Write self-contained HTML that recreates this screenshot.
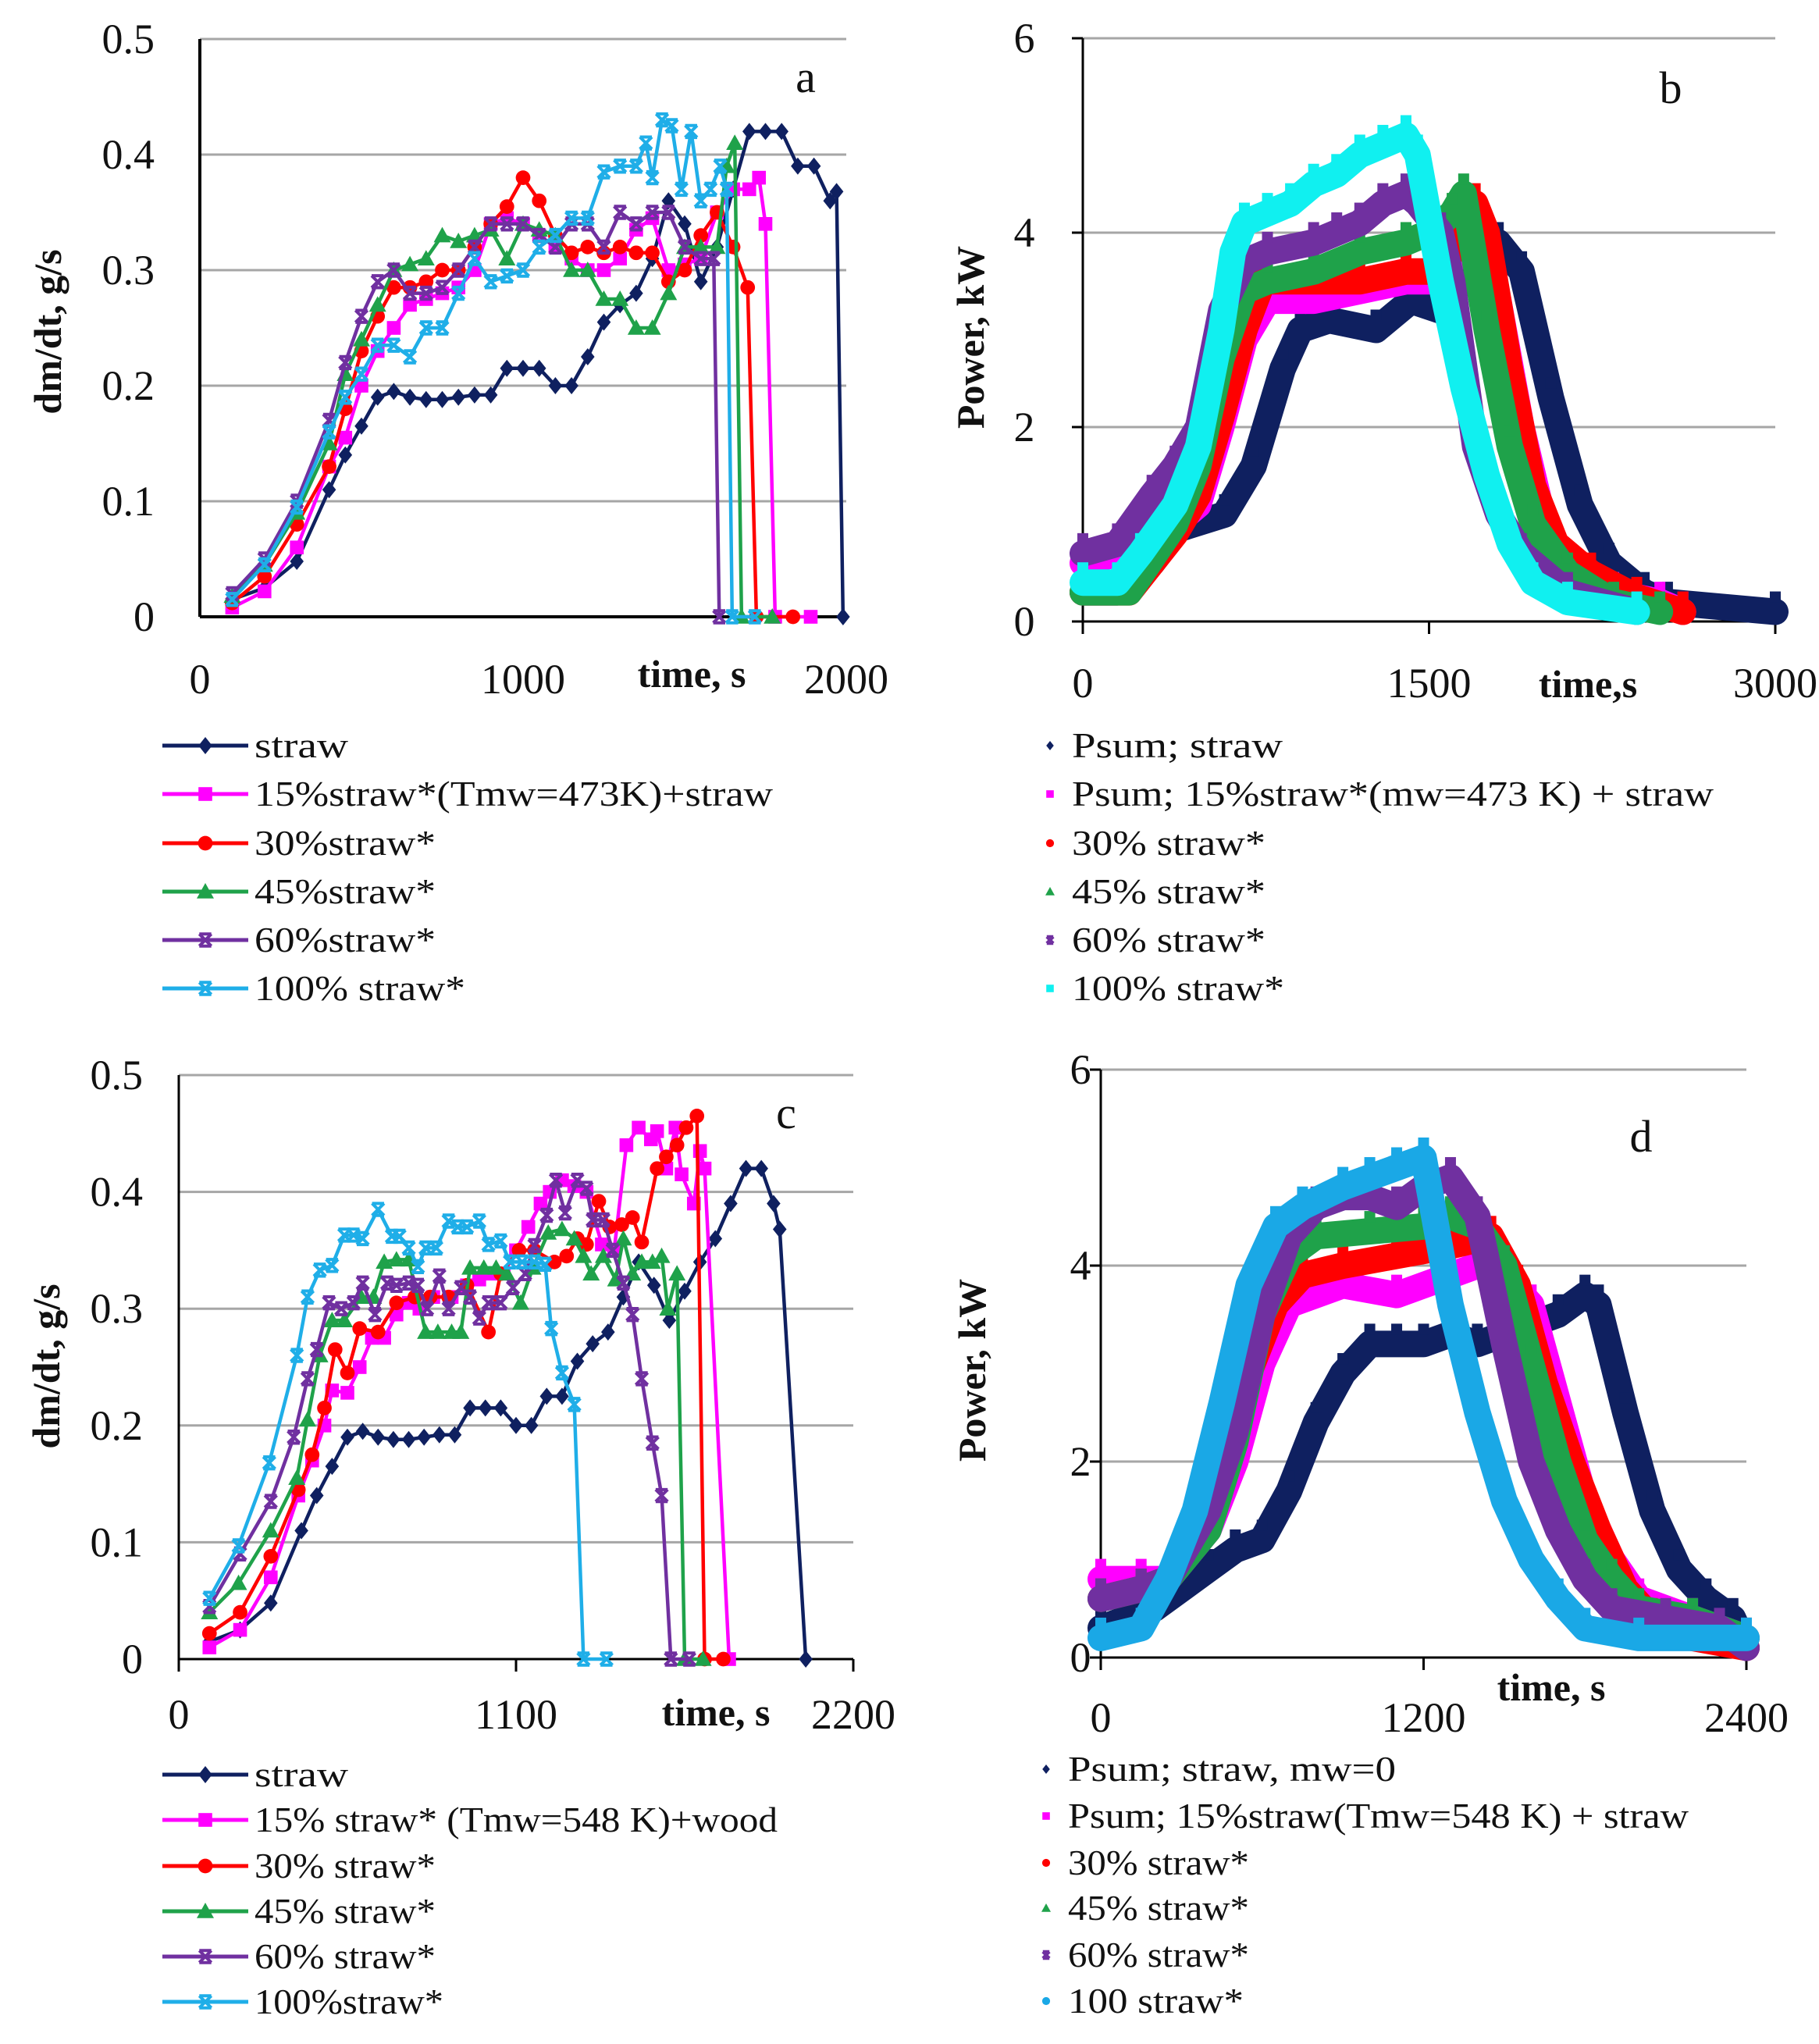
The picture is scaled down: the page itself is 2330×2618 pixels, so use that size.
<!DOCTYPE html>
<html><head><meta charset="utf-8">
<style>
html,body{margin:0;padding:0;background:#fff;}
svg{display:block;}
text{font-family:"Liberation Serif",serif;fill:#111;}
</style></head>
<body>
<svg id="fig" width="2330" height="2618" viewBox="0 0 2330 2618" xmlns="http://www.w3.org/2000/svg"></svg>
<script>
// ---------- Chart a data (dm/dt, g/s vs time, s) ----------
const aStrawT=[100,200,300,400,450,500,550,600,650,700,750,800,850,900,950,1000,1050,1100,1150,1200,1250,1300,1350,1400,1450,1500,1550,1600,1650,1700,1750,1800,1850,1900,1950,1970,1990];
const aStrawV=[.015,.025,.048,.11,.14,.165,.19,.195,.19,.188,.188,.19,.192,.192,.215,.215,.215,.2,.2,.225,.255,.27,.28,.31,.36,.34,.29,.32,.37,.42,.42,.42,.39,.39,.36,.368,0];
const aPinkT=[100,200,300,400,450,500,550,600,650,700,750,800,850,900,950,1000,1050,1100,1150,1200,1250,1300,1350,1400,1450,1500,1550,1600,1650,1700,1730,1750,1780,1890];
const aPinkV=[.008,.022,.06,.13,.155,.2,.23,.25,.27,.275,.28,.285,.3,.34,.345,.34,.33,.32,.31,.3,.3,.31,.335,.345,.3,.305,.31,.35,.37,.37,.38,.34,0,0];
const aRedT=[100,200,300,400,450,500,550,600,650,700,750,800,850,900,950,1000,1050,1100,1150,1200,1250,1300,1350,1400,1450,1500,1550,1600,1650,1695,1722,1835];
const aRedV=[.012,.035,.08,.13,.18,.23,.26,.285,.285,.29,.3,.3,.32,.34,.355,.38,.36,.33,.315,.32,.315,.32,.315,.315,.29,.3,.33,.35,.32,.285,0,0];
const aGreenT=[100,200,300,400,450,500,550,600,650,700,750,800,850,900,950,1000,1050,1100,1150,1200,1250,1300,1350,1400,1450,1500,1550,1600,1630,1655,1676,1771];
const aGreenV=[.018,.045,.09,.15,.21,.24,.27,.3,.305,.31,.33,.325,.33,.335,.31,.34,.335,.33,.3,.3,.275,.275,.25,.25,.28,.32,.32,.32,.39,.41,0,0];
const aPurpleT=[100,200,300,400,450,500,550,600,650,700,750,800,850,900,950,1000,1050,1100,1150,1200,1250,1300,1350,1400,1450,1500,1550,1590,1607];
const aPurpleV=[.02,.05,.1,.17,.22,.26,.29,.3,.28,.28,.285,.3,.32,.34,.34,.34,.33,.32,.34,.34,.32,.35,.34,.35,.35,.32,.31,.31,0];
const aCyanT=[100,200,300,400,450,500,550,600,650,700,750,800,850,900,950,1000,1050,1100,1150,1200,1250,1300,1350,1380,1400,1430,1460,1490,1520,1550,1580,1610,1630,1647,1717];
const aCyanV=[.015,.045,.095,.16,.19,.21,.235,.235,.225,.25,.25,.28,.31,.29,.295,.3,.32,.33,.345,.345,.385,.39,.39,.41,.38,.43,.425,.37,.42,.36,.37,.39,.37,0,0];
const aYTicks=[0,0.1,0.2,0.3,0.4,0.5];
const aXTicks=[0,1000,2000];

// ---------- Chart c data ----------
const cStrawT=[100,200,300,400,450,500,550,600,650,700,750,800,850,900,950,1000,1050,1100,1150,1200,1250,1300,1350,1400,1450,1500,1550,1600,1650,1700,1750,1800,1850,1900,1940,1960,2045];
const cStrawV=[.015,.025,.048,.11,.14,.165,.19,.195,.19,.188,.188,.19,.192,.192,.215,.215,.215,.2,.2,.225,.225,.255,.27,.28,.31,.34,.32,.29,.315,.34,.36,.39,.42,.42,.39,.368,0];
const cPinkT=[100,200,300,390,435,475,500,550,590,630,670,710,750,785,830,890,940,980,1020,1060,1100,1140,1180,1210,1250,1290,1330,1380,1420,1460,1500,1540,1560,1590,1620,1640,1680,1700,1715,1795];
const cPinkV=[.01,.025,.07,.14,.17,.2,.23,.228,.25,.275,.275,.295,.305,.3,.31,.31,.32,.325,.33,.33,.35,.37,.39,.4,.41,.405,.4,.355,.35,.44,.455,.445,.452,.42,.455,.415,.39,.435,.42,0];
const cRedT=[100,200,300,390,435,475,510,550,590,650,710,770,820,880,940,1010,1050,1110,1160,1225,1265,1300,1330,1370,1405,1445,1480,1510,1560,1590,1625,1655,1690,1715,1776];
const cRedV=[.022,.04,.088,.145,.175,.215,.265,.245,.283,.28,.305,.31,.31,.31,.32,.28,.33,.35,.35,.34,.345,.36,.355,.392,.37,.372,.378,.357,.42,.43,.44,.455,.465,0,0];
const cGreenT=[100,195,300,385,420,460,500,540,595,635,670,710,750,805,845,890,920,950,995,1035,1070,1115,1155,1205,1250,1290,1320,1345,1385,1425,1450,1480,1510,1545,1575,1595,1625,1650,1710];
const cGreenV=[.04,.065,.11,.155,.205,.26,.29,.29,.31,.31,.34,.342,.342,.28,.28,.28,.28,.335,.335,.335,.33,.305,.335,.365,.368,.36,.345,.33,.345,.325,.36,.33,.34,.34,.345,.3,.33,0,0];
const cPurpleT=[100,200,300,375,420,450,490,530,570,600,640,680,710,750,780,810,850,880,920,950,980,1010,1050,1090,1130,1160,1200,1230,1260,1300,1330,1350,1385,1415,1450,1480,1510,1545,1575,1605,1665];
const cPurpleV=[.045,.09,.135,.19,.24,.265,.305,.3,.305,.322,.295,.322,.32,.322,.32,.3,.328,.3,.318,.31,.292,.305,.305,.318,.33,.354,.38,.41,.382,.41,.403,.376,.376,.35,.322,.295,.24,.185,.14,0,0];
const cCyanT=[100,195,295,385,420,460,500,540,570,600,650,695,720,750,780,805,840,880,910,940,980,1010,1050,1080,1120,1160,1195,1215,1250,1290,1320,1395];
const cCyanV=[.052,.097,.168,.26,.31,.333,.337,.363,.363,.36,.385,.362,.362,.352,.336,.352,.352,.375,.37,.37,.375,.355,.358,.34,.34,.34,.338,.283,.245,.218,0,0];
const cYTicks=[0,0.1,0.2,0.3,0.4,0.5];
const cXTicks=[0,1100,2200];

// ---------- Chart b data (Power, kW) ----------
const bStrawT=[0,150,300,412,614,740,866,942,1068,1270,1422,1548,1674,1800,1901,2028,2154,2280,2432,2533,3000];
const bStrawV=[.3,.3,.6,.95,1.1,1.6,2.6,3.0,3.1,3.0,3.3,3.2,3.6,3.9,3.6,2.3,1.2,.6,.3,.2,.1];
const bPinkT=[0,150,300,500,600,700,800,1000,1200,1400,1500,1600,1700,1800,1900,2000,2100,2300,2500,2600];
const bPinkV=[.6,.7,.8,1.2,2.0,2.9,3.3,3.3,3.4,3.5,3.5,3.7,4.0,3.3,2.0,1.0,.6,.3,.2,.1];
const bRedT=[0,200,400,500,600,700,780,1000,1200,1400,1500,1600,1700,1750,1850,1950,2050,2200,2400,2600];
const bRedV=[.3,.3,.9,1.3,2.1,3.0,3.5,3.5,3.5,3.6,3.6,3.8,4.3,4.0,2.6,1.4,.8,.5,.25,.1];
const bGreenT=[0,200,400,500,600,700,800,1000,1200,1400,1500,1600,1650,1750,1850,1950,2100,2300,2500];
const bGreenV=[.3,.3,1.0,1.6,2.7,3.4,3.5,3.6,3.8,3.9,4.0,4.2,4.4,3.0,1.8,1.0,.5,.2,.1];
const bPurpleT=[0,150,300,400,500,600,700,800,1000,1100,1200,1300,1400,1450,1550,1600,1700,1800,1900,2100,2400];
const bPurpleV=[.7,.8,1.3,1.6,2.0,3.2,3.7,3.8,3.9,4.0,4.1,4.3,4.4,4.3,4.0,3.5,1.8,1.1,.7,.3,.1];
const bCyanT=[0,150,250,400,500,600,650,700,800,900,1000,1100,1200,1300,1400,1450,1550,1650,1750,1850,1950,2100,2400];
const bCyanV=[.4,.4,.7,1.2,1.8,3.0,3.8,4.1,4.2,4.3,4.5,4.6,4.8,4.9,5.0,4.8,3.5,2.4,1.5,.8,.4,.2,.1];
const bYTicks=[0,2,4,6];
const bXTicks=[0,1500,3000];

// ---------- Chart d data ----------
const dStrawT=[0,200,400,500,600,700,800,900,1000,1100,1200,1300,1400,1500,1600,1700,1800,1850,1950,2050,2150,2250,2350,2400];
const dStrawV=[.3,.5,.9,1.1,1.2,1.7,2.4,2.9,3.2,3.2,3.2,3.3,3.2,3.3,3.4,3.5,3.7,3.6,2.5,1.5,.9,.6,.4,.1];
const dPinkT=[0,150,250,400,500,600,700,800,900,1100,1300,1400,1500,1600,1700,1800,1900,2000,2200,2400];
const dPinkV=[.8,.8,.8,1.3,2.0,3.0,3.6,3.7,3.8,3.7,3.9,4.0,3.9,3.6,2.6,1.6,1.0,.6,.4,.2];
const dRedT=[0,150,250,350,450,550,650,750,900,1100,1300,1450,1550,1650,1750,1850,1950,2050,2200,2400];
const dRedV=[.6,.7,.8,1.4,2.1,2.9,3.6,3.9,4.0,4.1,4.2,4.3,3.8,2.8,2.0,1.3,.7,.4,.2,.1];
const dGreenT=[0,150,250,400,500,600,700,800,1000,1200,1300,1400,1500,1600,1700,1800,1900,2000,2200,2400];
const dGreenV=[.6,.7,.8,1.3,2.2,3.5,4.1,4.3,4.35,4.4,4.5,4.4,4.0,3.0,2.0,1.2,.8,.5,.4,.2];
const dPurpleT=[0,150,250,400,500,600,700,800,900,1000,1100,1200,1300,1400,1500,1600,1700,1800,1900,2100,2300,2400];
const dPurpleV=[.6,.7,.8,1.5,2.3,3.5,4.3,4.6,4.7,4.7,4.6,4.8,4.9,4.5,3.2,2.0,1.3,.8,.5,.4,.3,.1];
const dCyanT=[0,150,250,350,450,550,650,750,900,1000,1100,1200,1300,1400,1500,1600,1700,1800,2000,2400];
const dCyanV=[.2,.3,.8,1.5,2.6,3.8,4.4,4.6,4.8,4.9,5.0,5.1,3.6,2.5,1.6,1.0,.6,.3,.2,.2];
const dYTicks=[0,2,4,6];
const dXTicks=[0,1200,2400];

const NS="http://www.w3.org/2000/svg";
const svg=document.getElementById('fig');
function el(tag,attrs,parent){const e=document.createElementNS(NS,tag);for(const k in attrs)e.setAttribute(k,attrs[k]);(parent||svg).appendChild(e);return e;}
function txt(s,attrs,parent){const e=el('text',attrs,parent);e.textContent=s;return e;}

function axes(cfg){
  const g=el('g',{});
  
  
  const sx=v=>cfg.x0+(v-cfg.xmin)/(cfg.xmax-cfg.xmin)*(cfg.x1-cfg.x0);
  const sy=v=>cfg.y0-(v-cfg.ymin)/(cfg.ymax-cfg.ymin)*(cfg.y0-cfg.y1);
  cfg.yTicks.forEach(v=>{
    if(v!==cfg.ymin){const gl=el('line',{x1:cfg.x0,x2:cfg.x1,y1:sy(v),y2:sy(v),stroke:'#a6a6a6','stroke-width':3},g);
    
    }
    if(cfg.yTickMarks){el('line',{x1:cfg.x0-14,x2:cfg.x0,y1:sy(v),y2:sy(v),stroke:'#000','stroke-width':3},g);}
    const t=txt(String(v),{x:cfg.yLabelX,y:sy(v)+18,'font-size':54,'text-anchor':cfg.yAnchor||'end'},g);
    
    
  });
  cfg.xTicks.forEach(v=>{
    if(cfg.xTickMarks){el('line',{x1:sx(v),x2:sx(v),y1:cfg.y0,y2:cfg.y0+16,stroke:'#000','stroke-width':3},g);}
    const t=txt(String(v),{x:sx(v),y:cfg.xLabelY,'font-size':54,'text-anchor':'middle'},g);
    
    
  });
  const ya=el('line',{x1:cfg.x0,x2:cfg.x0,y1:cfg.y1,y2:cfg.y0,stroke:'#000','stroke-width':cfg.axisW||3},g);
  
  
  const xa=el('line',{x1:cfg.x0,x2:cfg.x1,y1:cfg.y0,y2:cfg.y0,stroke:'#000','stroke-width':cfg.axisW||3},g);
  
  
  const yt=txt(cfg.yTitle,{x:0,y:0,'font-size':50,'font-weight':'bold','text-anchor':'middle',transform:`translate(${cfg.yTitleX},${cfg.yTitleY}) rotate(-90)`},g);
  
  
  const xt=txt(cfg.xTitle,{x:cfg.xTitleX,y:cfg.xTitleY,'font-size':50,'font-weight':'bold','text-anchor':'middle'},g);
  
  
  const pl=txt(cfg.letter,{x:cfg.letterX,y:cfg.letterY,'font-size':58,'text-anchor':'middle'},g);
  
  
  return {g,sx,sy};
}

function marker(parent,x,y,type,color,s){
  let m;
  if(type==='diamond') m=el('polygon',{points:`${x},${y-s} ${x+s*0.8},${y} ${x},${y+s} ${x-s*0.8},${y}`,fill:color},parent);
  else if(type==='square') m=el('rect',{x:x-s*0.8,y:y-s*0.8,width:s*1.6,height:s*1.6,fill:color},parent);
  else if(type==='circle') m=el('circle',{cx:x,cy:y,r:s*0.85,fill:color},parent);
  else if(type==='triangle') m=el('polygon',{points:`${x},${y-s} ${x+s},${y+s*0.8} ${x-s},${y+s*0.8}`,fill:color},parent);
  else m=el('path',{d:`M${x-s*0.7},${y-s*0.7}L${x+s*0.7},${y+s*0.7}M${x+s*0.7},${y-s*0.7}L${x-s*0.7},${y+s*0.7}M${x-s*0.7},${y-s*0.7}H${x+s*0.7}M${x-s*0.7},${y+s*0.7}H${x+s*0.7}`,stroke:color,'stroke-width':4,fill:'none'},parent);
  return m;
}

function lineSeries(ax,T,V,color,type,name){
  const g=el('g',{},ax.g);
  
  
  const pts=T.map((t,i)=>ax.sx(t)+','+ax.sy(V[i])).join(' ');
  el('polyline',{points:pts,fill:'none',stroke:color,'stroke-width':4.5,'stroke-linejoin':'round'},g);
  T.forEach((t,i)=>{
    const m=marker(g,ax.sx(t),ax.sy(V[i]),type,color,11);
    
    
  });
}
function bandSeries(ax,T,V,color,name){
  const g=el('g',{},ax.g);
  
  
  const pts=T.map((t,i)=>ax.sx(t)+','+ax.sy(V[i])).join(' ');
  el('polyline',{points:pts,fill:'none',stroke:color,'stroke-width':34,'stroke-linejoin':'round','stroke-linecap':'round'},g);
  T.forEach((t,i)=>{
    const m=el('rect',{x:ax.sx(t)-7,y:ax.sy(V[i])-26,width:14,height:14,fill:color},g);
    
    
  });
}

function legend(items,x0,ys,isLine,name){
  const g=el('g',{});
  
  
  items.forEach((it,i)=>{
    const y=ys[i];
    const e=el('g',{},g);
    
    
    if(isLine){
      el('line',{x1:x0,x2:x0+110,y1:y,y2:y,stroke:it.c,'stroke-width':5},e);
      marker(e,x0+55,y,it.m,it.c,11);
      txt(it.t,{x:x0+118,y:y+15,'font-size':46,textLength:it.w,lengthAdjust:'spacingAndGlyphs'},e);
    } else {
      marker(e,x0,y,it.m,it.c,6);
      txt(it.t,{x:x0+28,y:y+15,'font-size':46,textLength:it.w,lengthAdjust:'spacingAndGlyphs'},e);
    }
  });
}

const NAVY='#0f2060',PINK='#ff00ff',RED='#ff0000',GREEN='#1fa24a',PURPLE='#7030a0',CYA='#1faee8',CYB='#10f0f0',CYD='#1aa8e6';

// ---- Chart a ----
const A=axes({name:'chart-a',x0:256,x1:1084,y0:790,y1:50,xmin:0,xmax:2000,ymin:0,ymax:0.5,yTicks:aYTicks,xTicks:aXTicks,yLabelX:198,xLabelY:888,axisW:4,
  yTitle:'dm/dt, g/s',yTitleX:78,yTitleY:425,xTitle:'time, s',xTitleX:886,xTitleY:880,letter:'a',letterX:1032,letterY:118});
lineSeries(A,aStrawT,aStrawV,NAVY,'diamond','series-straw');
lineSeries(A,aPinkT,aPinkV,PINK,'square','series-15pct');
lineSeries(A,aRedT,aRedV,RED,'circle','series-30pct');
lineSeries(A,aGreenT,aGreenV,GREEN,'triangle','series-45pct');
lineSeries(A,aPurpleT,aPurpleV,PURPLE,'x','series-60pct');
lineSeries(A,aCyanT,aCyanV,CYA,'x','series-100pct');

// ---- Chart b ----
const B=axes({name:'chart-b',x0:1387,x1:2274,y0:796,y1:49,xmin:0,xmax:3000,ymin:0,ymax:6,yTicks:bYTicks,xTicks:bXTicks,yLabelX:1312,yAnchor:'middle',xLabelY:893,yTickMarks:true,xTickMarks:true,
  yTitle:'Power, kW',yTitleX:1260,yTitleY:432,xTitle:'time,s',xTitleX:2034,xTitleY:893,letter:'b',letterX:2140,letterY:132});
bandSeries(B,bStrawT,bStrawV,NAVY,'series-psum-straw');
bandSeries(B,bPinkT,bPinkV,PINK,'series-psum-15pct');
bandSeries(B,bRedT,bRedV,RED,'series-30pct');
bandSeries(B,bGreenT,bGreenV,GREEN,'series-45pct');
bandSeries(B,bPurpleT,bPurpleV,PURPLE,'series-60pct');
bandSeries(B,bCyanT,bCyanV,CYB,'series-100pct');

// ---- Chart c ----
const C=axes({name:'chart-c',x0:229,x1:1093,y0:2125,y1:1377,xmin:0,xmax:2200,ymin:0,ymax:0.5,yTicks:cYTicks,xTicks:cXTicks,yLabelX:183,xLabelY:2214,xTickMarks:true,
  yTitle:'dm/dt, g/s',yTitleX:76,yTitleY:1750,xTitle:'time, s',xTitleX:917,xTitleY:2210,letter:'c',letterX:1007,letterY:1445});
lineSeries(C,cStrawT,cStrawV,NAVY,'diamond','series-straw');
lineSeries(C,cPinkT,cPinkV,PINK,'square','series-15pct');
lineSeries(C,cRedT,cRedV,RED,'circle','series-30pct');
lineSeries(C,cGreenT,cGreenV,GREEN,'triangle','series-45pct');
lineSeries(C,cPurpleT,cPurpleV,PURPLE,'x','series-60pct');
lineSeries(C,cCyanT,cCyanV,CYA,'x','series-100pct');

// ---- Chart d ----
const D=axes({name:'chart-d',x0:1410,x1:2237,y0:2123,y1:1370,xmin:0,xmax:2400,ymin:0,ymax:6,yTicks:dYTicks,xTicks:dXTicks,yLabelX:1384,yAnchor:'middle',xLabelY:2218,yTickMarks:true,xTickMarks:true,
  yTitle:'Power, kW',yTitleX:1262,yTitleY:1755,xTitle:'time, s',xTitleX:1987,xTitleY:2178,letter:'d',letterX:2102,letterY:1475});
bandSeries(D,dStrawT,dStrawV,NAVY,'series-psum-straw');
bandSeries(D,dPinkT,dPinkV,PINK,'series-psum-15pct');
bandSeries(D,dRedT,dRedV,RED,'series-30pct');
bandSeries(D,dGreenT,dGreenV,GREEN,'series-45pct');
bandSeries(D,dPurpleT,dPurpleV,PURPLE,'series-60pct');
bandSeries(D,dCyanT,dCyanV,CYD,'series-100pct');

// ---- Legends ----
legend([{t:'straw',c:NAVY,m:'diamond',w:120},{t:'15%straw*(Tmw=473K)+straw',c:PINK,m:'square',w:664},{t:'30%straw*',c:RED,m:'circle',w:232},{t:'45%straw*',c:GREEN,m:'triangle',w:232},{t:'60%straw*',c:PURPLE,m:'x',w:232},{t:'100% straw*',c:CYA,m:'x',w:270}],
  208,[955,1017,1080,1142,1204,1266],true,'legend-a');
legend([{t:'Psum; straw',c:NAVY,m:'diamond',w:270},{t:'Psum; 15%straw*(mw=473 K) + straw',c:PINK,m:'square',w:822},{t:'30% straw*',c:RED,m:'circle',w:248},{t:'45% straw*',c:GREEN,m:'triangle',w:248},{t:'60% straw*',c:PURPLE,m:'x',w:248},{t:'100% straw*',c:CYB,m:'square',w:272}],
  1345,[955,1017,1080,1142,1204,1266],false,'legend-b');
legend([{t:'straw',c:NAVY,m:'diamond',w:120},{t:'15% straw* (Tmw=548 K)+wood',c:PINK,m:'square',w:670},{t:'30% straw*',c:RED,m:'circle',w:232},{t:'45% straw*',c:GREEN,m:'triangle',w:232},{t:'60% straw*',c:PURPLE,m:'x',w:232},{t:'100%straw*',c:CYA,m:'x',w:242}],
  208,[2273,2331,2390,2448,2506,2564],true,'legend-c');
legend([{t:'Psum; straw, mw=0',c:NAVY,m:'diamond',w:420},{t:'Psum; 15%straw(Tmw=548 K) + straw',c:PINK,m:'square',w:795},{t:'30% straw*',c:RED,m:'circle',w:232},{t:'45% straw*',c:GREEN,m:'triangle',w:232},{t:'60% straw*',c:PURPLE,m:'x',w:232},{t:'100 straw*',c:CYD,m:'circle',w:225}],
  1340,[2266,2326,2386,2444,2504,2563],false,'legend-d');
</script>
</body></html>
